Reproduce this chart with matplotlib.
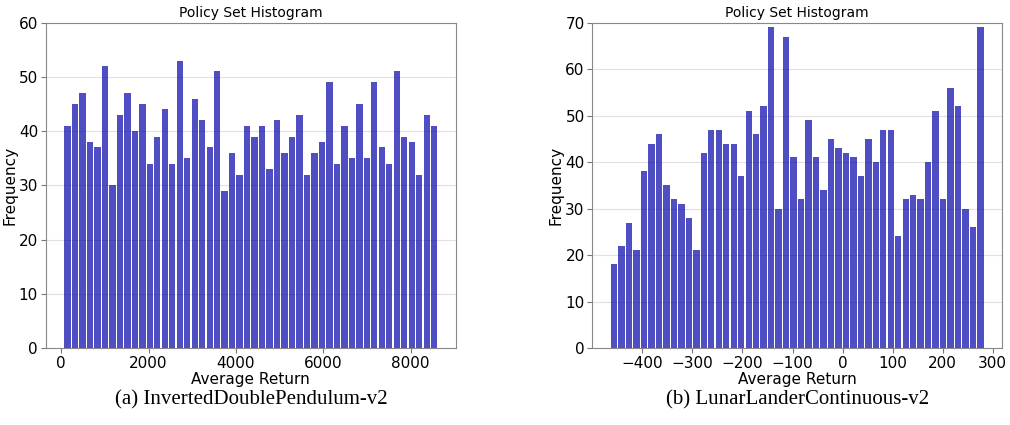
import numpy as np
import matplotlib
matplotlib.use('Agg')
import matplotlib.pyplot as plt

# bin counts for each environment's policy set
idp_counts = [41, 45, 47, 38, 37, 52, 30, 43, 47, 40,
              45, 34, 39, 44, 34, 53, 35, 46, 42, 37,
              51, 29, 36, 32, 41, 39, 41, 33, 42, 36,
              39, 43, 32, 36, 38, 49, 34, 41, 35, 45,
              35, 49, 37, 34, 51, 39, 38, 32, 43, 41]
idp_range = (60, 8626)
idp_ticks = [0, 2000, 4000, 6000, 8000]

llc_counts = [18, 22, 27, 21, 38, 44, 46, 35, 32, 31,
              28, 21, 42, 47, 47, 44, 44, 37, 51, 46,
              52, 69, 30, 67, 41, 32, 49, 41, 34, 45,
              43, 42, 41, 37, 45, 40, 47, 47, 24, 32,
              33, 32, 40, 51, 32, 56, 52, 30, 26, 69]
llc_range = (-464, 283)
llc_ticks = [-400, -300, -200, -100, 0, 100, 200, 300]

captions = ['(a) InvertedDoublePendulum-v2', '(b) LunarLanderContinuous-v2']

fig = plt.figure(figsize=(10.1, 4.25), dpi=100)
ax1 = fig.add_axes([45.7/1010, 1-348/425, 410.3/1010, 325.3/425])
ax2 = fig.add_axes([592.3/1010, 1-348/425, 410/1010, 325.3/425])

for ax, counts, rng, cap, ticks in [(ax1, idp_counts, idp_range, captions[0], idp_ticks),
                                    (ax2, llc_counts, llc_range, captions[1], llc_ticks)]:
    counts = np.array(counts)
    edges = np.linspace(rng[0], rng[1], len(counts) + 1)
    centers = (edges[:-1] + edges[1:]) / 2
    n, bins, patches = ax.hist(centers, bins=edges, weights=counts,
                               color='#0504aa', alpha=0.7, rwidth=0.85)
    ax.grid(axis='y', alpha=0.75, color='#d8d8d8')
    ax.set_axisbelow(True)
    ax.set_xticks(ticks)
    ax.set_xlabel('Average Return', fontsize=11, labelpad=1)
    ax.set_ylabel('Frequency', fontsize=11, labelpad=1)
    ax.set_title('Policy Set Histogram', fontsize=10, pad=4)
    maxfreq = n.max()
    ax.set_ylim(0, np.ceil(maxfreq / 10) * 10 if maxfreq % 10 else maxfreq + 10)
    ax.tick_params(labelsize=11, color='#777777', pad=2)
    for s in ax.spines.values():
        s.set_color('#888888')
    pos = ax.get_position()
    fig.text(pos.x0 + pos.width / 2, 1 - 400/425, cap, ha='center', va='center',
             fontsize=15, family='Liberation Serif')

fig.savefig('out.png', dpi=100)
